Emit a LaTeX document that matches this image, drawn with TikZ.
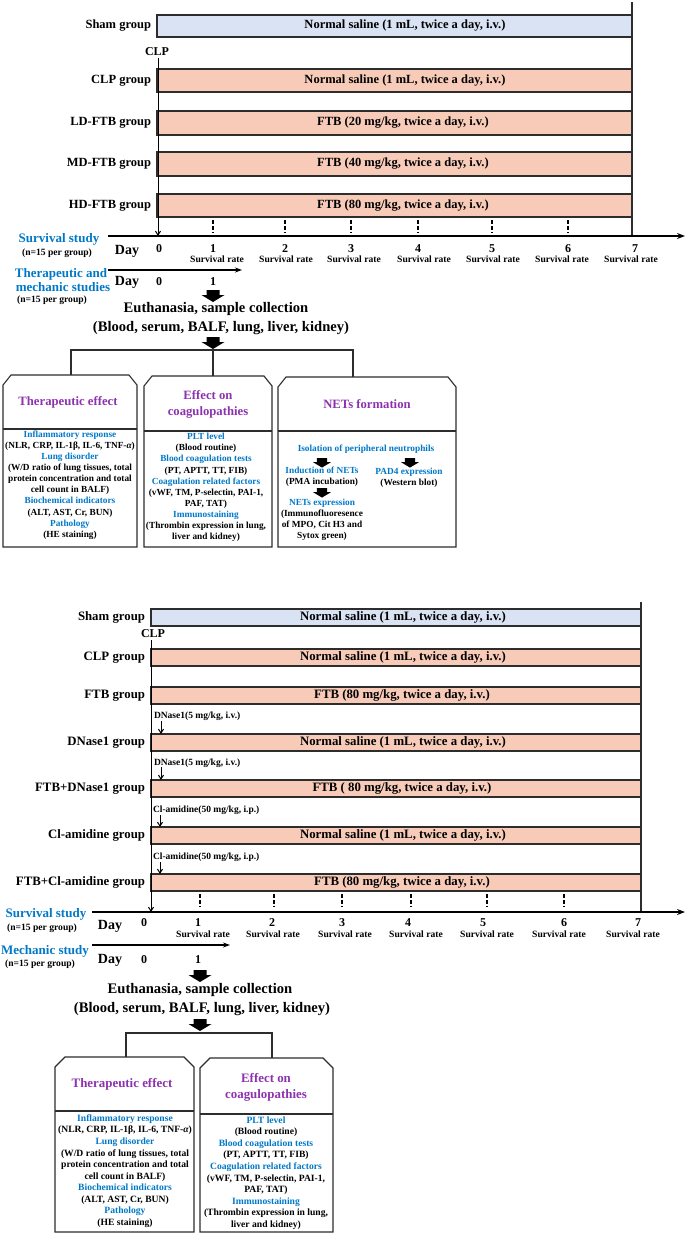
\documentclass[tikz,border=0pt]{standalone}
\usepackage{fontspec}
\setmainfont{Liberation Serif}
\usetikzlibrary{arrows.meta}
\definecolor{barblue}{RGB}{218,227,243}
\definecolor{barred}{RGB}{248,203,185}
\definecolor{tblue}{RGB}{0,120,200}
\definecolor{tpurp}{RGB}{140,50,175}
\definecolor{edge}{RGB}{45,45,45}
\newcommand\chambox[6]{%
  \draw[conn] (#1,#2+10) -- (#1+#6,#2) -- (#3-#6,#2) -- (#3,#2+10) -- (#3,#4) -- (#1,#4) -- cycle;
  \draw[conn] (#1,#5) -- (#3,#5);}
\begin{document}
\begin{tikzpicture}[x=1pt,y=-1pt,
  every node/.style={inner sep=0pt,outer sep=0pt},
  lbl/.style={font=\bfseries\fontsize{12.5}{14}\selectfont,anchor=east},
  lblb/.style={font=\bfseries\fontsize{12.8}{14}\selectfont,anchor=east},
  bartxt/.style={font=\bfseries\fontsize{12.5}{14}\selectfont},
  bartxtb/.style={font=\bfseries\fontsize{12.8}{14}\selectfont},
  barbox/.style={draw=edge,line width=1.1pt,anchor=north west},
  axis/.style={line width=1.3pt,-{Stealth[length=8pt,width=6pt]}},
  darr/.style={line width=1pt,-{Straight Barb[length=4pt,width=5pt]}},
  tickl/.style={line width=1.1pt,dash pattern=on 3.5pt off 2.5pt},
  conn/.style={line width=1.1pt,draw=edge},
  ttl/.style={font=\bfseries\fontsize{12.7}{15.5}\selectfont,text=tpurp,align=center},
  blu/.style={text=tblue,font=\bfseries\fontsize{13}{12}\selectfont},
  small/.style={font=\bfseries\fontsize{9.6}{11}\selectfont},
  daytxt/.style={font=\bfseries\fontsize{14}{16}\selectfont},
  num/.style={font=\bfseries\fontsize{12}{14}\selectfont},
  euth/.style={font=\bfseries\fontsize{14.6}{18}\selectfont},
  boxtxt/.style={align=center,font=\bfseries\fontsize{9.3}{11.1}\selectfont},
  boxtxtb/.style={align=center,font=\bfseries\fontsize{9.6}{11.55}\selectfont},
  dose/.style={font=\bfseries\fontsize{9.5}{11}\selectfont,anchor=west},
  blockarr/.pic={\fill[black] (-6.5,0) -- (6.5,0) -- (6.5,5) -- (11.5,5) -- (0,12) -- (-11.5,5) -- (-6.5,5) -- cycle;}
]
\useasboundingbox (0,0) rectangle (685,1235);

%================ TOP PANEL =================
\coordinate (r1a) at (632,2);
\coordinate (r1b) at (632,236);
\draw[conn] (r1a) -- (r1b);

\node[barbox,fill=barblue,minimum width=475,minimum height=22] (s1) at (157,15) {};
\node[barbox,fill=barred,minimum width=475,minimum height=23] (c1) at (157,69) {};
\node[barbox,fill=barred,minimum width=475,minimum height=24] (l1) at (157,111) {};
\node[barbox,fill=barred,minimum width=475,minimum height=24] (m1) at (157,152) {};
\node[barbox,fill=barred,minimum width=475,minimum height=23] (h1) at (157,194) {};

\node[bartxt] (s1t) at (405,26) {Normal saline (1 mL, twice a day, i.v.)};
\node[bartxt] (c1t) at (405,80.5) {Normal saline (1 mL, twice a day, i.v.)};
\node[bartxt] (l1t) at (403,123) {FTB (20 mg/kg, twice a day, i.v.)};
\node[bartxt] (m1t) at (403,164) {FTB (40 mg/kg, twice a day, i.v.)};
\node[bartxt] (h1t) at (403,205.5) {FTB (80 mg/kg, twice a day, i.v.)};

\node[lbl] (s1l) at (151,26) {Sham group};
\node[lbl] (c1l) at (151,80.5) {CLP group};
\node[lbl] (l1l) at (151,123) {LD-FTB group};
\node[lbl] (m1l) at (151,164) {MD-FTB group};
\node[lbl] (h1l) at (151,205.5) {HD-FTB group};

\node[font=\bfseries\fontsize{12}{14}\selectfont] (clp1) at (157,52) {CLP};
\coordinate (clp1a) at (158,58);
\coordinate (clp1b) at (158,236);
\draw[darr] (clp1a) -- (clp1b);

\coordinate (ax1a) at (108,236);
\coordinate (ax1b) at (685,236);
\draw[axis] (ax1a) -- (ax1b);
\foreach \x in {213,285,351,418,492,568} \draw[tickl] (\x,220) -- (\x,233);

\node[blu] (ss1) at (59,239) {Survival study};
\node[small] (n1) at (57,253) {(n=15 per group)};
\node[daytxt] (d1) at (127,251) {Day};
\foreach \x/\t in {159/0,213/1,285/2,351/3,418/4,492/5,568/6,635/7}
  \node[num] at (\x,249) {\t};
\foreach \x in {217,286,354,424,493,562,631}
  \node[small] at (\x,259.5) {Survival rate};

\coordinate (ax2a) at (108,270);
\coordinate (ax2b) at (242,270);
\draw[line width=1.1pt,-{Stealth[length=7pt,width=5pt]}] (ax2a) -- (ax2b);
\node[blu] (tm1) at (61,274.5) {Therapeutic and};
\node[blu] (tm2) at (63,287.5) {mechanic studies};
\node[small] (n2) at (52,300.5) {(n=15 per group)};
\node[daytxt] (d2) at (127,282) {Day};
\node[num] (d2z) at (159,282) {0};
\node[num] (d2o) at (213,282) {1};

\pic at (213,290) {blockarr};
\node[euth] (eu1) at (216,309) {Euthanasia, sample collection};
\node[euth] (eu2) at (221,328) {(Blood, serum, BALF, lung, liver, kidney)};
\pic at (213,337) {blockarr};

% boxes
\chambox{3}{375}{137}{547}{429}{8}
\chambox{144}{376}{272}{547}{431}{8}
\chambox{278}{377}{456}{547}{431}{8}
\coordinate (b1t) at (71,375);
\coordinate (b2t) at (213,376);
\coordinate (b3t) at (353,377);
\coordinate (brl) at (71,350);
\coordinate (brm) at (213,350);
\coordinate (brr) at (353,350);
\draw[conn] (b1t) -- (brl) -- (brr) -- (b3t);
\draw[conn] (brm) -- (b2t);

\node[ttl] (tt1) at (68,402) {Therapeutic effect};
\node[ttl] (tt2) at (208,404.5) {Effect on\\coagulopathies};
\node[ttl] (tt3) at (367,404) {NETs formation};

\node[boxtxt] (bx1) at (70,485) {\textcolor{tblue}{Inflammatory response}\\
(NLR, CRP, IL-1β, IL-6, TNF-{\itshape α})\\
\textcolor{tblue}{Lung disorder}\\
(W/D ratio of lung tissues, total\\
protein concentration and total\\
cell count in BALF)\\
\textcolor{tblue}{Biochemical indicators}\\
(ALT, AST, Cr, BUN)\\
\textcolor{tblue}{Pathology}\\
(HE staining)};

\node[boxtxt] (bx2) at (206,487.5) {\textcolor{tblue}{PLT level}\\
(Blood routine)\\
\textcolor{tblue}{Blood coagulation tests}\\
(PT, APTT, TT, FIB)\\
\textcolor{tblue}{Coagulation related factors}\\
(vWF, TM, P-selectin, PAI-1,\\
PAF, TAT)\\
\textcolor{tblue}{Immunostaining}\\
(Thrombin expression in lung,\\
liver and kidney)};

\node[boxtxt,text=tblue] (iso) at (366,449) {Isolation of peripheral neutrophils};
\pic[scale=0.8] at (322,458) {blockarr};
\pic[scale=0.8] at (410,458) {blockarr};
\node[boxtxt] (ind) at (322,476.5) {\textcolor{tblue}{Induction of NETs}\\(PMA incubation)};
\node[boxtxt] (pad) at (409,477.5) {\textcolor{tblue}{PAD4 expression}\\(Western blot)};
\pic[scale=0.8] at (322,488) {blockarr};
\node[boxtxt] (nex) at (322,520) {\textcolor{tblue}{NETs expression}\\(Immunofluoresence\\of MPO, Cit H3 and\\Sytox green)};

%================ BOTTOM PANEL =================
\coordinate (r2a) at (641,602);
\coordinate (r2b) at (641,912);
\draw[conn] (r2a) -- (r2b);

\node[barbox,fill=barblue,minimum width=490,minimum height=17] (s2) at (151,609) {};
\node[barbox,fill=barred,minimum width=490,minimum height=17] (c2) at (151,649) {};
\node[barbox,fill=barred,minimum width=490,minimum height=17] (f2) at (151,687) {};
\node[barbox,fill=barred,minimum width=490,minimum height=17] (dn2) at (151,734) {};
\node[barbox,fill=barred,minimum width=490,minimum height=17] (fd2) at (151,780) {};
\node[barbox,fill=barred,minimum width=490,minimum height=17] (cl2) at (151,827) {};
\node[barbox,fill=barred,minimum width=490,minimum height=17] (fc2) at (151,874) {};

\node[bartxtb] at (403,617.5) {Normal saline (1 mL, twice a day, i.v.)};
\node[bartxtb] at (403,657.5) {Normal saline (1 mL, twice a day, i.v.)};
\node[bartxtb] at (402,695.5) {FTB (80 mg/kg, twice a day, i.v.)};
\node[bartxtb] at (403,742.5) {Normal saline (1 mL, twice a day, i.v.)};
\node[bartxtb] at (402,788.5) {FTB ( 80 mg/kg, twice a day, i.v.)};
\node[bartxtb] at (403,835.5) {Normal saline (1 mL, twice a day, i.v.)};
\node[bartxtb] at (402,882.5) {FTB (80 mg/kg, twice a day, i.v.)};

\node[lblb] at (145,617.5) {Sham group};
\node[lblb] at (145,657.5) {CLP group};
\node[lblb] at (145,695.5) {FTB group};
\node[lblb] at (145,742.5) {DNase1 group};
\node[lblb] at (145,788.5) {FTB+DNase1 group};
\node[lblb] at (145,835.5) {Cl-amidine group};
\node[lblb] at (145,882.5) {FTB+Cl-amidine group};

\node[font=\bfseries\fontsize{12}{14}\selectfont] (clp2) at (153,634) {CLP};
\coordinate (clp2a) at (151,640);
\coordinate (clp2b) at (151,912);
\draw[darr] (clp2a) -- (clp2b);

\node[dose] (do1) at (154,716) {DNase1(5 mg/kg, i.v.)};
\node[dose] (do2) at (154,763) {DNase1(5 mg/kg, i.v.)};
\node[dose] (do3) at (153,810) {Cl-amidine(50 mg/kg, i.p.)};
\node[dose] (do4) at (153,857) {Cl-amidine(50 mg/kg, i.p.)};
\coordinate (a1a) at (161,721); \coordinate (a1b) at (161,734);
\coordinate (a2a) at (161,767); \coordinate (a2b) at (161,780);
\coordinate (a3a) at (160,815); \coordinate (a3b) at (160,827);
\coordinate (a4a) at (160,862); \coordinate (a4b) at (160,874);
\draw[darr] (a1a) -- (a1b);
\draw[darr] (a2a) -- (a2b);
\draw[darr] (a3a) -- (a3b);
\draw[darr] (a4a) -- (a4b);

\coordinate (ax3a) at (92,912);
\coordinate (ax3b) at (685,912);
\draw[axis] (ax3a) -- (ax3b);
\foreach \x in {200,274,342,411,487,564} \draw[tickl] (\x,894) -- (\x,907);

\node[blu] (ss2) at (46,914) {Survival study};
\node[small] (n3) at (42,928) {(n=15 per group)};
\node[daytxt] (d3) at (110,926) {Day};
\foreach \x/\t in {144/0,198/1,272/2,342/3,408/4,483/5,564/6,638/7}
  \node[num] at (\x,923) {\t};
\foreach \x in {203,273,345,416,487,559,633}
  \node[small] at (\x,934.5) {Survival rate};

\coordinate (ax4a) at (92,945);
\coordinate (ax4b) at (230,945);
\draw[line width=1.1pt,-{Stealth[length=7pt,width=5pt]}] (ax4a) -- (ax4b);
\node[blu] (ms) at (45,951) {Mechanic study};
\node[small] (n4) at (40,964) {(n=15 per group)};
\node[daytxt] (d4) at (110,960) {Day};
\node[num] (d4z) at (144,960) {0};
\node[num] (d4o) at (198,960) {1};

\pic at (200,970) {blockarr};
\node[euth] (eu3) at (200,990) {Euthanasia, sample collection};
\node[euth] (eu4) at (202,1009) {(Blood, serum, BALF, lung, liver, kidney)};
\pic at (200,1019) {blockarr};

\chambox{55}{1057}{194}{1232}{1111}{10}
\chambox{200}{1058}{333}{1232}{1114}{10}
\coordinate (bb1t) at (126,1057);
\coordinate (bb2t) at (272,1058);
\coordinate (bbl) at (126,1033);
\coordinate (bbr) at (272,1033);
\draw[conn] (bb1t) -- (bbl) -- (bbr) -- (bb2t);

\node[ttl,font=\bfseries\fontsize{12.9}{16}\selectfont] (tt4) at (122,1084) {Therapeutic effect};
\node[ttl,font=\bfseries\fontsize{12.9}{16}\selectfont] (tt5) at (266,1087) {Effect on\\coagulopathies};

\node[boxtxtb] (bx4) at (125,1171) {\textcolor{tblue}{Inflammatory response}\\
(NLR, CRP, IL-1β, IL-6, TNF-{\itshape α})\\
\textcolor{tblue}{Lung disorder}\\
(W/D ratio of lung tissues, total\\
protein concentration and total\\
cell count in BALF)\\
\textcolor{tblue}{Biochemical indicators}\\
(ALT, AST, Cr, BUN)\\
\textcolor{tblue}{Pathology}\\
(HE staining)};

\node[boxtxtb] (bx5) at (266,1173) {\textcolor{tblue}{PLT level}\\
(Blood routine)\\
\textcolor{tblue}{Blood coagulation tests}\\
(PT, APTT, TT, FIB)\\
\textcolor{tblue}{Coagulation related factors}\\
(vWF, TM, P-selectin, PAI-1,\\
PAF, TAT)\\
\textcolor{tblue}{Immunostaining}\\
(Thrombin expression in lung,\\
liver and kidney)};
\end{tikzpicture}
\end{document}
